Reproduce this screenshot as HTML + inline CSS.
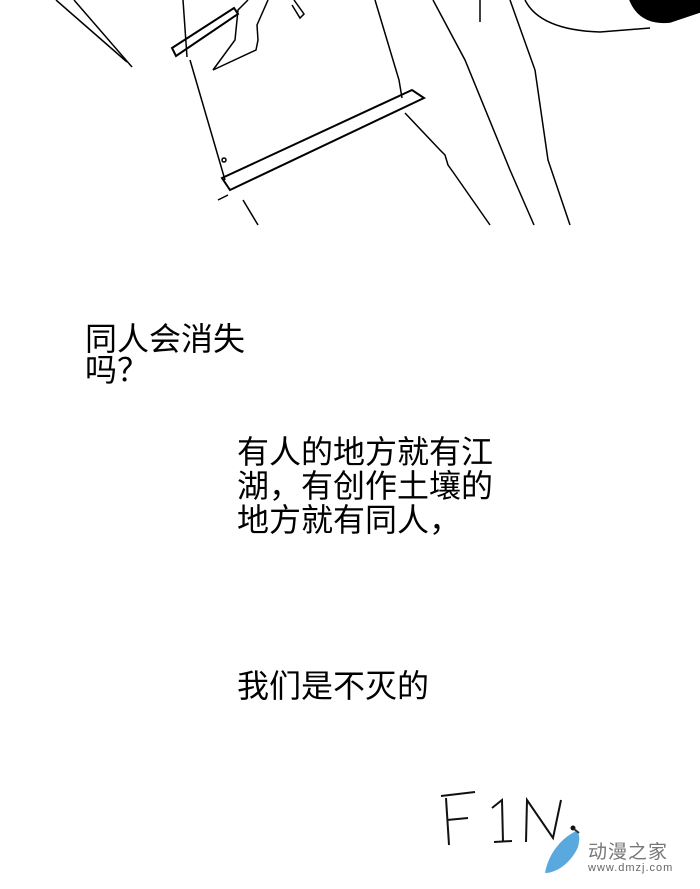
<!DOCTYPE html>
<html><head><meta charset="utf-8"><style>
html,body{margin:0;padding:0;background:#fff;}
body{width:700px;height:889px;position:relative;overflow:hidden;font-family:"Liberation Sans","Noto Sans CJK SC",sans-serif;color:#000;}
.t{position:absolute;font-size:32px;white-space:nowrap;}
</style></head><body>
<svg width="700" height="230" style="position:absolute;left:0;top:0" fill="none" stroke="#000" stroke-width="1.5">
<path d="M56 0 L127 62"/><path d="M74 0 L132 67"/>
<path d="M172 48 L234 8 L238 14 L176 56 Z" stroke-width="2"/>
<path d="M183 0 L187 57"/>
<path d="M213 70 L235 40 L238 10 L248 0"/><path d="M213 70 L256 50 L258 40 L257 25 L268 0"/>
<path d="M294 0 L304 14 L300 18 L292 5"/>
<path d="M190 60 L225 180"/><circle cx="224" cy="160" r="2"/>
<path d="M375 0 L399 80 L402 98"/>
<path d="M222 178 L412 90 L424 98 L230 190 Z" stroke-width="2"/>
<path d="M218 200 L228 195"/>
<path d="M405 113 L440 150 L445 155 L448 165 L453 172 L490 225"/>
<path d="M243 200 L258 225"/>
<path d="M433 0 L465 60 L510 170 L534 225"/>
<path d="M510 0 L535 70 L548 160 L570 225"/>
<path d="M480 0 L480 22"/>
<path d="M525 0 Q540 30 600 32 L650 28"/>
<path d="M630 0 Q640 25 670 22 L700 12 L700 0 Z" fill="#000"/>
</svg>
<div class="t" style="left:85px;top:324px;line-height:31px">同人会消失<br>吗？</div>
<div class="t" style="left:237px;top:435px;line-height:34px">有人的地方就有江<br>湖，有创作土壤的<br>地方就有同人，</div>
<div class="t" style="left:237px;top:669px;line-height:34px">我们是不灭的</div>
<svg width="700" height="889" style="position:absolute;left:0;top:0" fill="none" stroke="#111" stroke-width="2">
<path d="M441 796 L475 792"/><path d="M446 798 L449 845"/><path d="M447 820 L468 818"/>
<path d="M492 808 L502 800 L503 842"/><path d="M494 842 L512 841"/>
<path d="M526 842 L527 800 L553 838 L561 800"/>
<circle cx="573" cy="828" r="1.5" fill="#111"/>
</svg>
<svg width="50" height="55" style="position:absolute;left:540px;top:825px">
<path d="M36 6 C20 14 8 30 5 48 C18 48 32 36 38 22 C40 14 40 9 36 6 Z" fill="#5aa9de"/>
<path d="M34 4 L39 8" stroke="#333" stroke-width="2"/>
</svg>
<div style="position:absolute;left:588px;top:837px;font-size:19px;color:#777;font-family:'Noto Sans CJK SC',sans-serif;letter-spacing:1px">动漫之家</div>
<div style="position:absolute;left:588px;top:862px;font-size:11px;color:#666;letter-spacing:1px">www.dmzj.com</div>
</body></html>
